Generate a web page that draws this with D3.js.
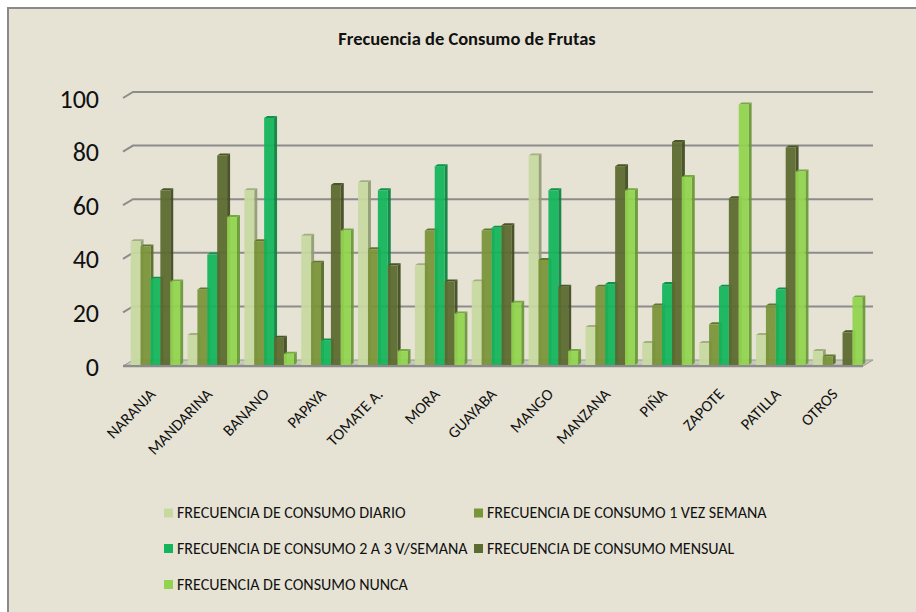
<!DOCTYPE html>
<html><head><meta charset="utf-8">
<script src="https://cdn.jsdelivr.net/npm/d3@7/dist/d3.min.js"></script>
<style>html,body{margin:0;padding:0;background:#fff}svg{display:block}text{font-family:Carlito,Lato,"Open Sans",sans-serif}</style>
</head><body><svg id="c" width="916" height="612"></svg>
<script>
const categories=["NARANJA","MANDARINA","BANANO","PAPAYA","TOMATE A.","MORA","GUAYABA","MANGO","MANZANA","PIÑA","ZAPOTE","PATILLA","OTROS"];
const diario=[46,11,65,48,68,37,31,78,14,8,8,11,5];
const unaVez=[44,28,46,38,43,50,50,39,29,22,15,22,3];
const dosTres=[32,41,92,9,65,74,51,65,30,30,29,28,0];
const mensual=[65,78,10,67,37,31,52,29,74,83,62,81,12];
const nunca=[31,55,4,50,5,19,23,5,65,70,97,72,25];
const seriesNames=["FRECUENCIA DE CONSUMO DIARIO","FRECUENCIA DE CONSUMO 1 VEZ SEMANA","FRECUENCIA DE CONSUMO 2 A 3 V/SEMANA","FRECUENCIA DE CONSUMO MENSUAL","FRECUENCIA DE CONSUMO NUNCA"];
const seriesValues=[diario,unaVez,dosTres,mensual,nunca];
const fills=["#c8d9a0","#7a9439","#13b55a","#5b6a30","#92d34f"];
const tickValues=[0,20,40,60,80,100];
const title="Frecuencia de Consumo de Frutas";

const svg=d3.select("#c");
svg.append("rect").attr("x",8).attr("y",8).attr("width",910).attr("height",606).attr("fill","#e6e3d5").attr("stroke","#8a8a8a").attr("stroke-width",2);
svg.append("text").attr("x",467).attr("y",45).attr("text-anchor","middle").attr("font-size",18.5).attr("font-weight","bold").attr("fill","#111").text(title);

const y=d3.scaleLinear().domain([0,100]).range([366,98]);
const x=d3.scaleBand().domain(categories).range([123,870]).paddingInner(0.13).paddingOuter(0.135);
const inner=d3.scaleBand().domain(d3.range(5)).range([0,x.bandwidth()]);
const dx=10,dy=6;
const grid=svg.append("g");
tickValues.filter(t=>t>0).forEach(t=>{
  grid.append("path").attr("d",`M${123},${y(t)}l${dx},${-dy}H873`).attr("fill","none").attr("stroke","#8c8c8c").attr("stroke-width",2);
});
grid.append("path").attr("d",`M123,${y(0)}l${dx},${-dy}H873l${-dx},${dy}Z`).attr("fill","#c9c8bc").attr("stroke","#9a9a94").attr("stroke-width",1);
grid.append("path").attr("d",`M123,${y(0)}H863`).attr("stroke","#8c8c8c").attr("stroke-width",2.5);

const yAxis=d3.axisLeft(y).tickValues(tickValues).tickSize(0).tickPadding(24);
const ya=svg.append("g").attr("transform","translate(123,0)").call(yAxis);
ya.select(".domain").remove();
ya.selectAll("text").attr("font-size",26).attr("fill","#111").attr("font-family","Carlito,Lato,sans-serif").attr("dy","0.35em");

const bd=3,bu=2,base=365;
const bars=svg.append("g");
categories.forEach((c,ci)=>{
  seriesValues.forEach((vals,si)=>{
    const v=vals[ci]; if(v<=0) return;
    const bx=x(c)+inner(si), bw=inner.bandwidth(), top=y(v)-1.5, col=d3.color(fills[si]);
    const g=bars.append("g");
    g.append("path").attr("d",`M${bx+bw},${top}l${bd},${-bu}V${base-bu}l${-bd},${bu}Z`).attr("fill",col.darker(0.9)).attr("fill-opacity",0.95);
    g.append("path").attr("d",`M${bx},${top}l${bd},${-bu}h${bw}l${-bd},${bu}Z`).attr("fill",col.darker(0.6));
    g.append("rect").attr("x",bx).attr("y",top).attr("width",bw).attr("height",base-top).attr("fill",fills[si]).attr("fill-opacity",0.94);
  });
});

const xa=svg.append("g");
categories.forEach(c=>{
  const cx=x(c)+x.bandwidth()/2+1;
  xa.append("text").attr("transform",`translate(${cx},395) rotate(-46)`).attr("text-anchor","end").attr("font-size",16).attr("fill","#111").text(c);
});

const legend=[[164,513],[474,513],[164,548.5],[474,548.5],[164,584.5]];
const lg=svg.append("g");
seriesNames.forEach((n,i)=>{
  lg.append("rect").attr("x",legend[i][0]).attr("y",legend[i][1]-4.5).attr("width",9).attr("height",9).attr("fill",fills[i]);
  lg.append("text").attr("x",legend[i][0]+13).attr("y",legend[i][1]+5).attr("font-size",16).attr("fill","#111").text(n);
});
</script></body></html>
